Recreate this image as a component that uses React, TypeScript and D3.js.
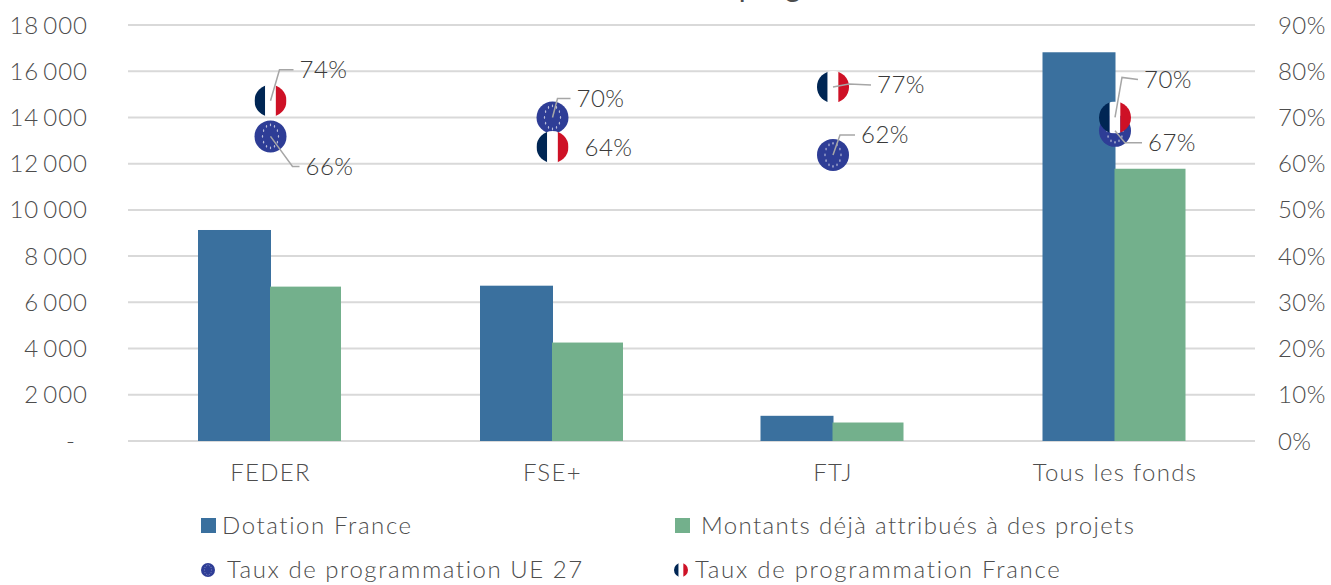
import React from "react";
import * as d3 from "d3";

const categories = ["FEDER", "FSE+", "FTJ", "Tous les fonds"];
const dotation = [9130, 6720, 1090, 16820];
const montants = [6680, 4260, 800, 11780];
const tauxUE = [65.9, 70, 61.9, 67.1];
const tauxFR = [73.6, 63.6, 76.6, 70];
const leftTicks = d3.range(0, 18001, 2000);
const rightTicks = d3.range(0, 91, 10);
const FONT = "Lato, 'Open Sans', sans-serif";
const GREY = "#4d4d4d";
const centers = [270.5, 552.5, 833, 1115];
const labelUE = [{ dx: 35, dy: 30, elbow: [22, 30] }, { dx: 24, dy: -19, elbow: [5, -19] }, { dx: 28, dy: -20, elbow: [7, -20] }, { dx: 33, dy: 12, elbow: [10, 12] }];
const labelFR = [{ dx: 29, dy: -31, elbow: [9, -31] }, { dx: 32, dy: 0, elbow: null }, { dx: 44, dy: -2, elbow: [16, -3] }, { dx: 29, dy: -38, elbow: [7, -40] }];

const y = d3.scaleLinear().domain([0, 18000]).range([441, 25]);
const yR = d3.scaleLinear().domain([0, 90]).range([441, 25]);
const fmt = (v: number) => (v === 0 ? "-" : d3.format(",")(v).replace(",", "\u2009"));

function FlagFR({ cx, cy, r, id }: { cx: number; cy: number; r: number; id: string }) {
  return (
    <g>
      <clipPath id={id}><circle cx={cx} cy={cy} r={r} /></clipPath>
      <g clipPath={`url(#${id})`}>
        <rect x={cx - r} y={cy - r} width={r * 2 / 3} height={r * 2} fill="#002654" />
        <rect x={cx - r / 3} y={cy - r} width={r * 2 / 3} height={r * 2} fill="#ffffff" />
        <rect x={cx + r / 3} y={cy - r} width={r * 2 / 3} height={r * 2} fill="#ce1126" />
      </g>
    </g>
  );
}

function FlagEU({ cx, cy, r }: { cx: number; cy: number; r: number }) {
  return (
    <g>
      <circle cx={cx} cy={cy} r={r} fill="#2e3d96" />
      {d3.range(12).map((i) => (
        <ellipse key={i} cx={cx + Math.cos(i * Math.PI / 6) * r * 0.5} cy={cy + Math.sin(i * Math.PI / 6) * r * 0.72} rx={r * 0.04} ry={r * 0.09} fill="#b9bdd8" />
      ))}
    </g>
  );
}

function Leader({ x, y0, dx, dy, elbow }: { x: number; y0: number; dx: number; dy: number; elbow: number[] | null }) {
  if (!elbow) return null;
  const line = d3.line();
  return <path d={line([[x, y0], [x + elbow[0], y0 + elbow[1]], [x + dx - 6, y0 + dy]]) as string} fill="none" stroke="#a6a6a6" strokeWidth={1.5} />;
}

export default function App() {
  return (
    <svg width={1331} height={585} style={{ position: "absolute", left: 0, top: 0 }} fontFamily={FONT} fontWeight={300}>
      <text x={717} y={-3} fontSize={30} fontWeight={400} letterSpacing={0.8} textAnchor="middle" fill={GREY}>Avancement de la programmation</text>
      {leftTicks.map((t) => (
        <line key={t} x1={128} x2={1255} y1={y(t)} y2={y(t)} stroke="#d9d9d9" strokeWidth={2} />
      ))}
      {leftTicks.map((t) => (
        <text key={t} x={t === 0 ? 76 : 88} y={y(t) + 8.5} fontSize={24} letterSpacing={1} textAnchor="end" fill={GREY}>{fmt(t)}</text>
      ))}
      {rightTicks.map((t) => (
        <text key={t} x={1278} y={yR(t) + 8.5} fontSize={24} letterSpacing={0.4} fill={GREY}>{t}%</text>
      ))}
      {categories.map((c, i) => (
        <g key={c}>
          <rect x={centers[i] - 72.5} y={y(dotation[i])} width={73} height={y(0) - y(dotation[i])} fill="#3a709e" />
          <rect x={centers[i] - 0.5} y={y(montants[i])} width={71} height={y(0) - y(montants[i])} fill="#73b08c" />
          <text x={centers[i]} y={481} fontSize={24} letterSpacing={1.3} textAnchor="middle" fill={GREY}>{c}</text>
        </g>
      ))}
      {categories.map((c, i) => (
        <FlagEU key={c} cx={centers[i]} cy={yR(tauxUE[i])} r={16} />
      ))}
      {categories.map((c, i) => (
        <FlagFR key={c} cx={centers[i]} cy={yR(tauxFR[i])} r={16} id={`fr${i}`} />
      ))}
      {categories.map((c, i) => {
        const cyU = yR(tauxUE[i]);
        const cyF = yR(tauxFR[i]);
        const a = labelUE[i];
        const b = labelFR[i];
        return (
          <g key={c}>
            <Leader x={centers[i]} y0={cyU} dx={a.dx} dy={a.dy} elbow={a.elbow} />
            <Leader x={centers[i]} y0={cyF} dx={b.dx} dy={b.dy} elbow={b.elbow} />
            <text x={centers[i] + a.dx} y={cyU + a.dy + 8.5} fontSize={24} letterSpacing={0.5} fill="#3a3a3a">{Math.round(tauxUE[i])}%</text>
            <text x={centers[i] + b.dx} y={cyF + b.dy + 8.5} fontSize={24} letterSpacing={0.5} fill="#3a3a3a">{Math.round(tauxFR[i])}%</text>
          </g>
        );
      })}
      <rect x={201} y={518} width={15} height={15} fill="#3a709e" />
      <text x={222} y={534} fontSize={24} letterSpacing={1.6} fill={GREY}>Dotation France</text>
      <rect x={675} y={518} width={15} height={15} fill="#73b08c" />
      <text x={701} y={534} fontSize={24} letterSpacing={1.37} fill={GREY}>Montants déjà attribués à des projets</text>
      <FlagEU cx={208} cy={570} r={7} />
      <text x={227} y={578} fontSize={24} letterSpacing={1.55} fill={GREY}>Taux de programmation UE 27</text>
      <FlagFR cx={681} cy={570} r={7} id="legfr" />
      <text x={695} y={578} fontSize={24} letterSpacing={1.72} fill={GREY}>Taux de programmation France</text>
    </svg>
  );
}
